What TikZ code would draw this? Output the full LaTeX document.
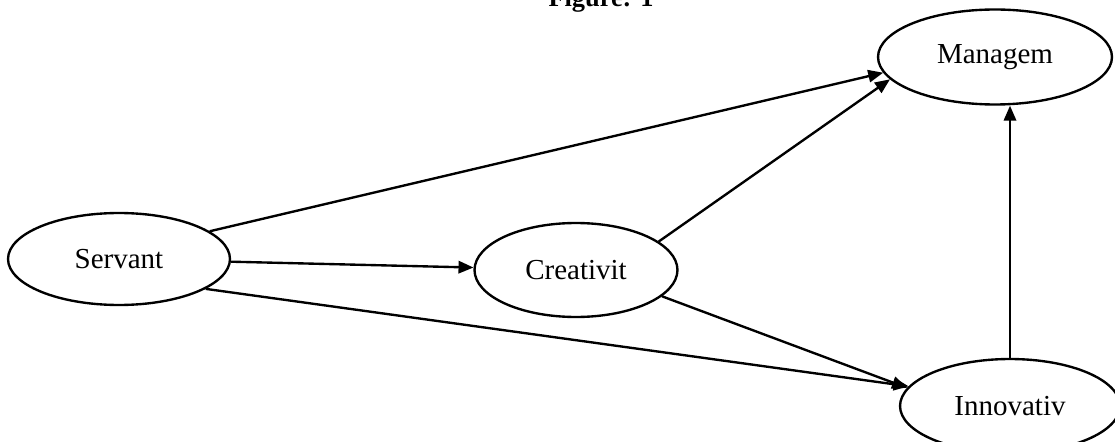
\documentclass[tikz,border=0pt]{standalone}
\usepackage{fontspec}
\setmainfont{Liberation Serif}
\usetikzlibrary{shapes,arrows.meta}

\begin{document}
\begin{tikzpicture}[x=0.02cm, y=-0.02cm, line width=1.35pt,
 every node/.style={font=\fontsize{16.5}{20}\selectfont},
 var/.style={ellipse, draw, inner sep=0pt},
 link/.style={-{Triangle[length=8.5pt, width=7pt]}}]

 \clip (0,0) rectangle (1115,442);
 \node[anchor=base, font=\bfseries\fontsize{15}{18}\selectfont] (title) at (601,6.5) {Figure: 1};

 \node[var, minimum width=4.44cm, minimum height=1.84cm] (servant) at (119,259) {Servant};
 \node[var, minimum width=4.06cm, minimum height=1.88cm] (creativ) at (576,270) {Creativit};
 \node[var, minimum width=4.68cm, minimum height=1.90cm] (managem) at (995,57) {Managem};
 \node[var, minimum width=4.40cm, minimum height=1.88cm] (innovat) at (1010,406) {Innovativ};

 \draw[link] (servant.17) -- (managem.188);
 \draw[link] (servant) -- (creativ);
 \draw[link] (servant.-19) -- (innovat.169);
 \draw[link] (creativ.19) -- (managem.192);
 \draw[link] (creativ.-17) -- (innovat.170);
 \draw[link] (innovat.north) -- (innovat.north |- managem.south);
%\draw[link] (innovat) -- (managem);
\end{tikzpicture}
\end{document}
